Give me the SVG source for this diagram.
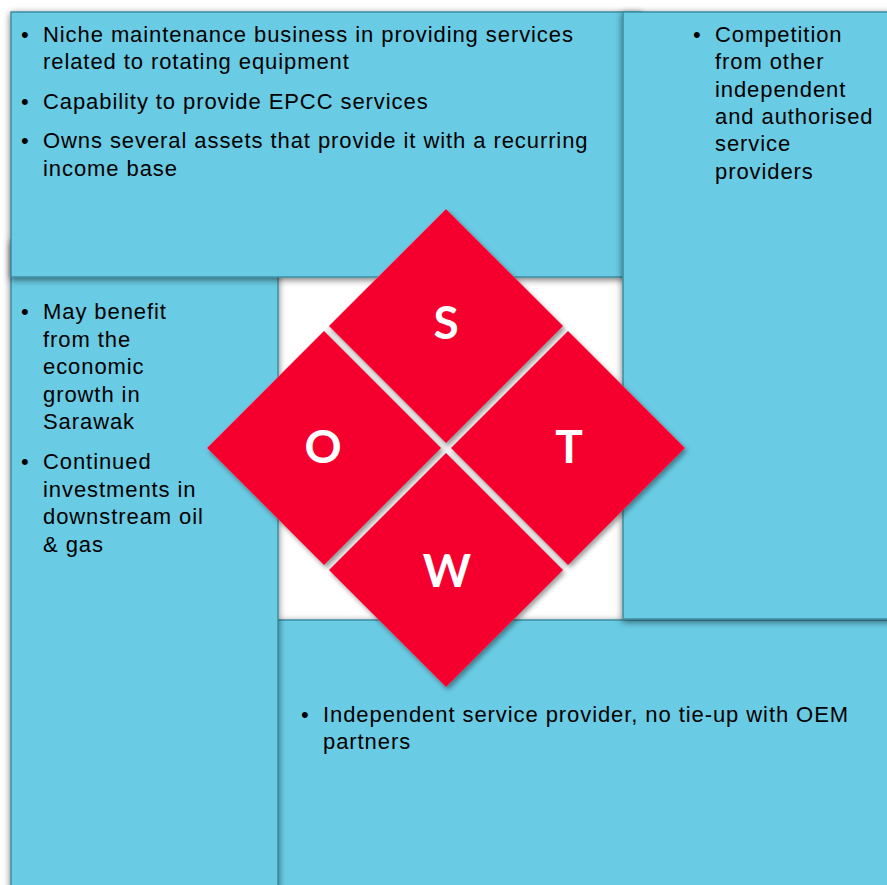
<svg xmlns="http://www.w3.org/2000/svg" width="887" height="885" viewBox="0 0 887 885">
<defs>
<filter id="psh" x="-10%" y="-10%" width="120%" height="120%">
<feGaussianBlur in="SourceAlpha" stdDeviation="3.5"/>
<feOffset dx="0" dy="2" result="b"/>
<feFlood flood-color="#000" flood-opacity="0.55"/>
<feComposite in2="b" operator="in"/>
<feMerge><feMergeNode/><feMergeNode in="SourceGraphic"/></feMerge>
</filter>
<filter id="dsh" x="-20%" y="-20%" width="140%" height="140%">
<feGaussianBlur in="SourceAlpha" stdDeviation="2.5"/>
<feOffset dx="2" dy="3" result="b"/>
<feFlood flood-color="#000" flood-opacity="0.4"/>
<feComposite in2="b" operator="in"/>
<feMerge><feMergeNode/><feMergeNode in="SourceGraphic"/></feMerge>
</filter>
</defs>
<style>
.panel{fill:#69CBE4;stroke:#3D8DA1;stroke-width:1.5}
.txt{font-family:"Liberation Sans",Arial,sans-serif;font-size:22px;letter-spacing:0.92px;fill:#000}
.red{fill:#F5002D}
.let{font-family:Lato,"Open Sans",sans-serif;font-weight:700;font-size:46px;fill:#fff;text-anchor:middle}
</style>
<rect width="887" height="885" fill="#fff"/>
<g id="weakness">
<rect class="panel" x="278" y="620" width="630" height="290" filter="url(#psh)"/>
<text class="txt" x="301" y="722">•</text>
<text class="txt" x="323" y="722">Independent service provider, no tie-up with OEM</text>
<text class="txt" x="323" y="749">partners</text>
</g>
<g id="opportunities">
<rect class="panel" x="11" y="240" width="267" height="670" filter="url(#psh)"/>
<text class="txt" x="21" y="319">•</text>
<text class="txt" x="43" y="319">May benefit</text>
<text class="txt" x="43" y="347">from the</text>
<text class="txt" x="43" y="374">economic</text>
<text class="txt" x="43" y="402">growth in</text>
<text class="txt" x="43" y="429">Sarawak</text>
<text class="txt" x="21" y="469">•</text>
<text class="txt" x="43" y="469">Continued</text>
<text class="txt" x="43" y="497">investments in</text>
<text class="txt" x="43" y="524">downstream oil</text>
<text class="txt" x="43" y="552">&amp; gas</text>
</g>
<g id="strengths">
<rect class="panel" x="11" y="12" width="630" height="265" filter="url(#psh)"/>
<text class="txt" x="21" y="42">•</text>
<text class="txt" x="43" y="42">Niche maintenance business in providing services</text>
<text class="txt" x="43" y="69">related to rotating equipment</text>
<text class="txt" x="21" y="109">•</text>
<text class="txt" x="43" y="109">Capability to provide EPCC services</text>
<text class="txt" x="21" y="148">•</text>
<text class="txt" x="43" y="148">Owns several assets that provide it with a recurring</text>
<text class="txt" x="43" y="176">income base</text>
</g>
<g id="threats">
<rect class="panel" x="623" y="12" width="290" height="607" filter="url(#psh)"/>
<text class="txt" x="693" y="42">•</text>
<text class="txt" x="715" y="42">Competition</text>
<text class="txt" x="715" y="69">from other</text>
<text class="txt" x="715" y="97">independent</text>
<text class="txt" x="715" y="124">and authorised</text>
<text class="txt" x="715" y="151">service</text>
<text class="txt" x="715" y="179">providers</text>
</g>
<g id="swot">
<polygon points="446,209 685,448 446,687 207,448" fill="#f2f2f2"/>
<g filter="url(#dsh)">
<polygon class="red" points="446,209 563,326 446,443 329,326"/>
<polygon class="red" points="324,331 441,448 324,565 207,448"/>
<polygon class="red" points="568,331 685,448 568,565 451,448"/>
<polygon class="red" points="446,453 563,570 446,687 329,570"/>
</g>
<text class="let" x="446" y="339">S</text>
<text class="let" x="323" y="463">O</text>
<text class="let" x="569" y="463">T</text>
<text class="let" x="447" y="587">W</text>
</g>
</svg>
